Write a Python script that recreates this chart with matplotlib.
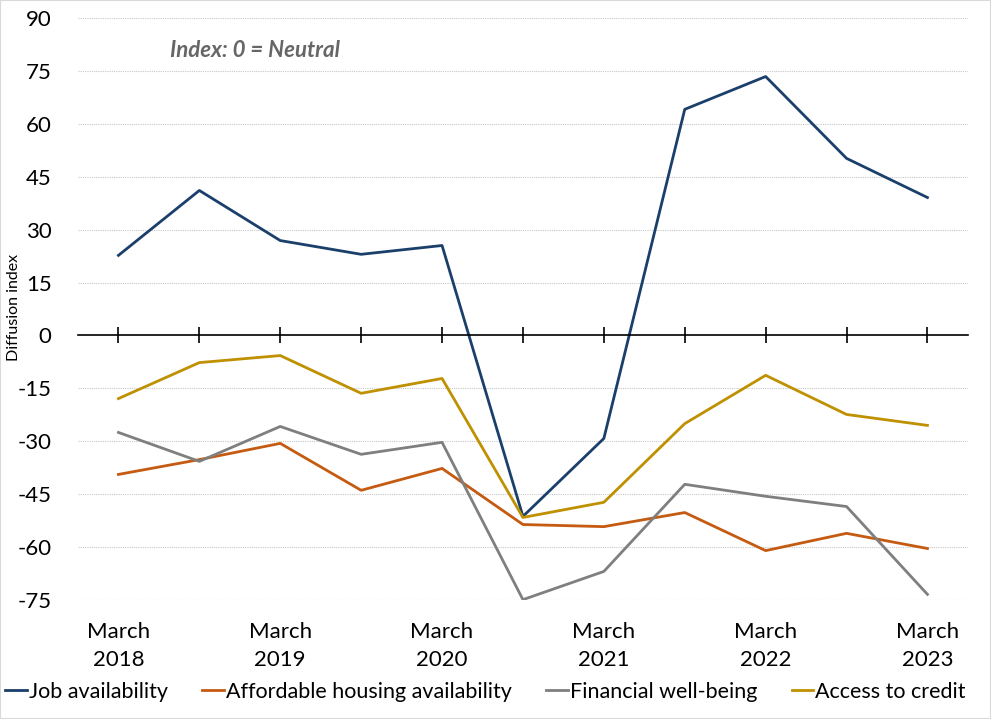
import matplotlib.pyplot as plt
from matplotlib.patches import Rectangle
import numpy as np

plt.rcParams['font.family'] = ['Lato', 'DejaVu Sans']
plt.rcParams['axes.unicode_minus'] = False

periods = ['Mar 2018', 'Sep 2018', 'Mar 2019', 'Sep 2019', 'Mar 2020', 'Sep 2020',
           'Mar 2021', 'Sep 2021', 'Mar 2022', 'Sep 2022', 'Mar 2023']
tick_labels = ['March\n2018', 'March\n2019', 'March\n2020', 'March\n2021', 'March\n2022', 'March\n2023']

job = [22.7, 41.1, 26.9, 23.0, 25.5, -51.3, -29.2, 64.1, 73.4, 50.2, 39.1]
housing = [-39.4, -35.2, -30.6, -43.9, -37.7, -53.6, -54.2, -50.2, -61.0, -56.1, -60.4]
wellbeing = [-27.5, -35.7, -25.8, -33.7, -30.3, -74.9, -66.9, -42.2, -45.6, -48.5, -73.4]
credit = [-17.9, -7.7, -5.7, -16.4, -12.2, -51.6, -47.3, -25.0, -11.3, -22.4, -25.5]

x = np.arange(len(periods))

fig = plt.figure(figsize=(9.91, 7.19), dpi=100)
ax = fig.add_axes([0.0787, 0.1655, 0.898, 0.8095])

ax.plot(x, job, color='#1B3F6B', lw=2, label='Job availability')
ax.plot(x, housing, color='#C55A11', lw=2, label='Affordable housing availability')
ax.plot(x, wellbeing, color='#7F7F7F', lw=2, label='Financial well-being')
ax.plot(x, credit, color='#BF9000', lw=2, label='Access to credit')

ax.set_xlim(-0.5, 10.5)
ax.set_ylim(-75, 90)
ax.set_yticks(np.arange(-75, 91, 15))
for yv in np.arange(-75, 91, 15):
    if yv != 0:
        ax.axhline(yv, color='#C8C8C8', lw=0.8, ls=(0, (1, 1)), zorder=0)

for s in ['top', 'right', 'left']:
    ax.spines[s].set_visible(False)
ax.spines['bottom'].set_position(('data', 0))
ax.spines['bottom'].set_color('black')
ax.spines['bottom'].set_linewidth(1.2)
ax.set_xticks(x)
ax.tick_params(axis='x', direction='inout', length=12, width=1.2, labelbottom=False)
ax.tick_params(axis='y', length=0, labelsize=16, pad=19)

# year labels only under the March points
for i, lab in enumerate(tick_labels):
    ax.text(x[2 * i], -81.2, lab, ha='center', va='top', fontsize=16,
            linespacing=1.5, transform=ax.transData, clip_on=False)

ax.text(0.199, 0.944, 'Index: 0 = Neutral', transform=ax.transAxes, ha='center', va='center',
        fontsize=16, fontweight='bold', style='italic', color='#666666')

fig.text(0.014, 0.572, 'Diffusion index', rotation=90, ha='center', va='center', fontsize=11.5)

fig.legend(loc='lower center', bbox_to_anchor=(0.49, -0.003), ncol=4, frameon=False,
           fontsize=15.5, handlelength=1.0, handletextpad=0.1, columnspacing=1.6)

fig.patches.append(Rectangle((0, 0), 1, 1, transform=fig.transFigure, fill=False,
                             edgecolor='#D9D9D9', lw=1.5))

fig.savefig('out.png', dpi=100)
